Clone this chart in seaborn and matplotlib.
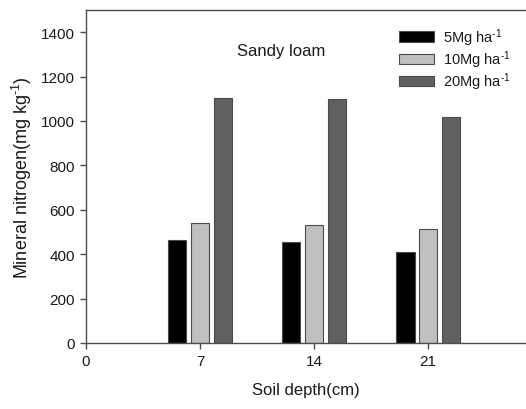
import matplotlib
matplotlib.use("Agg")
import matplotlib.pyplot as plt
import seaborn as sns
import pandas as pd

# Mineral nitrogen by soil depth for three application rates (sandy loam)
depths = [7, 14, 21]
rate_labels = [r"5Mg ha$^{\text{-}1}$",
               r"10Mg ha$^{\text{-}1}$",
               r"20Mg ha$^{\text{-}1}$"]
n_5mg = [463, 454, 409]
n_10mg = [539, 530, 514]
n_20mg = [1103, 1097, 1020]
x_ticks = [0, 7, 14, 21]
y_ticks = [0, 200, 400, 600, 800, 1000, 1200, 1400]

rows = []
for label, vals in zip(rate_labels, [n_5mg, n_10mg, n_20mg]):
    for d, v in zip(depths, vals):
        rows.append({"depth": d, "value": v, "rate": label})
df = pd.DataFrame(rows)

sns.set_style("ticks")
plt.rcParams["font.family"] = ["Liberation Sans", "DejaVu Sans"]
plt.rcParams["mathtext.fontset"] = "custom"
plt.rcParams["mathtext.rm"] = "Liberation Sans"
plt.rcParams["mathtext.it"] = "Liberation Sans"

text_color = "#1a1a1a"
spine_color = "#4d4d4d"

fig = plt.figure(figsize=(5.26, 4.10), dpi=100)
ax = fig.add_axes([86 / 526, 66 / 410, 440 / 526, 333 / 410])

sns.barplot(data=df, x="depth", y="value", hue="rate", native_scale=True,
            width=0.6, gap=0.2, palette=["#000000", "#c0c0c0", "#606060"],
            edgecolor="#4a4a4a", linewidth=0.8, errorbar=None, ax=ax)

ax.set_xlim(0, 27)
ax.set_ylim(0, 1500)
ax.set_xticks(x_ticks)
ax.set_xticklabels([str(t) for t in x_ticks])
ax.set_yticks(y_ticks)
ax.set_yticklabels([str(t) for t in y_ticks])

for side in ["left", "top", "bottom"]:
    ax.spines[side].set_color(spine_color)
    ax.spines[side].set_linewidth(1.0)
ax.spines["right"].set_visible(False)
ax.tick_params(direction="out", length=4, width=1.0, color=spine_color,
               labelsize=11, labelcolor=text_color, pad=4)

ax.set_xlabel("Soil depth(cm)", fontsize=12, color=text_color, labelpad=10)
ax.set_ylabel(r"Mineral nitrogen(mg kg$^{\text{-}1}$)", fontsize=13,
              color=text_color, labelpad=5)

ax.text(12, 1318, "Sandy loam", fontsize=12, color=text_color,
        ha="center", va="center")

leg = ax.legend(loc="upper left", bbox_to_anchor=(0.711, 0.952), frameon=False,
                fontsize=10.5, handlelength=2.4, handleheight=0.7,
                handletextpad=0.6, labelspacing=0.05, borderaxespad=0,
                borderpad=0)
for t in leg.get_texts():
    t.set_color(text_color)

fig.savefig("out.png", dpi=100)
